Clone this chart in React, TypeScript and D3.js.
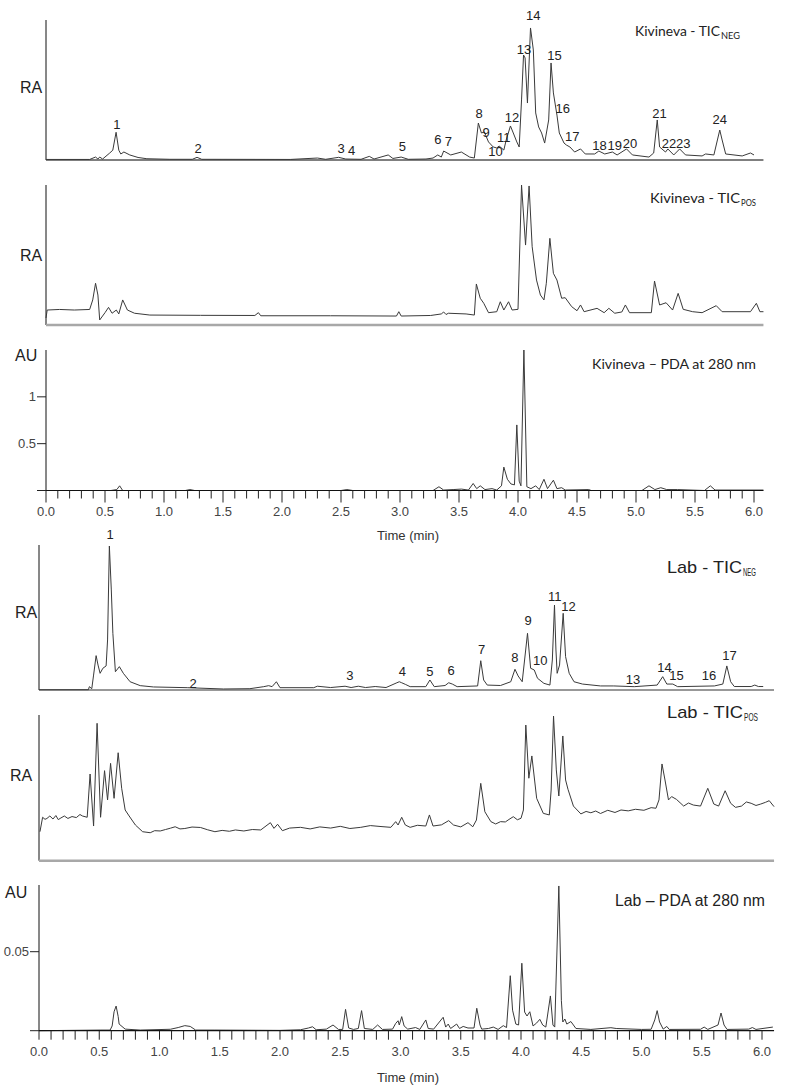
import React from 'react'
import * as d3 from 'd3'

const width = 786
const height = 1088

type Pt = [number, number]
type Peak = [string, number, number]

// Kivineva - TIC NEG : [time (min), relative abundance %]
const kivNegTrace: Pt[] = [
  [0, 0.4], [0.37, 0.4], [0.42, 2.1], [0.44, 0.7], [0.455, 2.1], [0.48, 0.7], [0.54, 5], [0.566, 7],
  [0.594, 19.8], [0.617, 7], [0.634, 4.3], [0.66, 5.7], [0.71, 3.6], [0.78, 1.8], [0.855, 0.9],
  [1.05, 0.5], [1.24, 0.5], [1.28, 1.9], [1.32, 0.5], [2.07, 0.4], [2.3, 1.4], [2.37, 0.5],
  [2.48, 1.9], [2.54, 0.7], [2.67, 0.5], [2.74, 2.6], [2.78, 0.7], [2.9, 3.6], [2.94, 1.1],
  [3.01, 2.1], [3.07, 0.5], [3.22, 0.7], [3.28, 1.4], [3.32, 3.6], [3.35, 2.1], [3.37, 6.4],
  [3.43, 3.6], [3.52, 5.7], [3.59, 2.1], [3.63, 1.4], [3.664, 26.4], [3.69, 19.3], [3.715, 20],
  [3.75, 12.9], [3.79, 9.3], [3.82, 8.6], [3.84, 10], [3.88, 7.1], [3.9, 14.3], [3.936, 24.3],
  [3.96, 19.3], [3.99, 12.9], [4.01, 9.3], [4.03, 42.9], [4.047, 75], [4.06, 72.9], [4.08, 40.7],
  [4.106, 94.3], [4.13, 78.6], [4.15, 33.6], [4.175, 23.6], [4.2, 19.3], [4.226, 12.1], [4.26, 28.6],
  [4.28, 69.3], [4.3, 47.9], [4.33, 32.1], [4.35, 19.3], [4.39, 12.1], [4.41, 10.7], [4.44, 9.3],
  [4.48, 5.7], [4.53, 7.9], [4.57, 4.3], [4.65, 4.3], [4.685, 6.4], [4.735, 4.3], [4.8, 5.7],
  [4.84, 3.6], [4.92, 7.9], [4.97, 3.6], [5.11, 2.1], [5.15, 5], [5.18, 28.6], [5.2, 9.3],
  [5.25, 5.7], [5.27, 7.9], [5.32, 3.6], [5.37, 7.9], [5.42, 3.6], [5.56, 2.9], [5.59, 4.3],
  [5.66, 3.6], [5.69, 14.3], [5.71, 21.4], [5.73, 14.3], [5.76, 4.3], [5.9, 2.9], [5.97, 5], [6.0, 3.6]
]
// [label, time, label height %]
const kivNegPeaks: Peak[] = [
  ['1', 0.6, 25.7], ['2', 1.29, 7.9], ['3', 2.5, 7.9], ['4', 2.59, 7.1], ['5', 3.02, 10],
  ['6', 3.32, 14.3], ['7', 3.41, 12.9], ['8', 3.67, 32.9], ['9', 3.73, 20], ['10', 3.81, 6.4],
  ['11', 3.88, 16.4], ['12', 3.95, 30.7], ['13', 4.05, 78.6], ['14', 4.13, 102.9], ['15', 4.31, 75],
  ['16', 4.38, 37.1], ['17', 4.46, 17.1], ['18', 4.69, 10.7], ['19', 4.82, 10.7], ['20', 4.95, 12.1],
  ['21', 5.2, 32.9], ['22', 5.28, 12.1], ['23', 5.4, 12.1], ['24', 5.71, 28.6]
]

// Kivineva - TIC POS
const kivPosTrace: Pt[] = [
  [0, 5], [0.01, 10.7], [0.115, 11.1], [0.24, 10.7], [0.37, 11.1], [0.396, 17.9], [0.42, 29.8],
  [0.44, 21.4], [0.455, 3.6], [0.5, 8.8], [0.53, 12.6], [0.56, 8.4], [0.596, 10.7], [0.617, 7.9],
  [0.65, 17.9], [0.69, 10.7], [0.75, 8.4], [0.88, 7.1], [1.31, 6.9], [1.77, 6.8], [1.8, 8.8],
  [1.82, 6.6], [2.41, 6.6], [2.97, 6.4], [2.99, 9.5], [3.01, 6.4], [3.26, 6.8], [3.35, 7.9],
  [3.37, 9.3], [3.39, 7.5], [3.41, 8.4], [3.56, 7.9], [3.63, 7.1], [3.647, 29.3], [3.68, 19.1],
  [3.71, 15.5], [3.75, 8.8], [3.82, 9.5], [3.85, 16.6], [3.88, 10.7], [3.92, 16.6], [3.95, 10.7],
  [4.0, 11.2], [4.03, 100], [4.064, 57.1], [4.094, 99.3], [4.12, 55.9], [4.157, 32.1], [4.19, 21.4],
  [4.22, 17.9], [4.24, 29.8], [4.27, 61.9], [4.3, 36.9], [4.33, 32.1], [4.37, 19.1], [4.4, 19.5],
  [4.455, 13.1], [4.5, 10.2], [4.53, 14.3], [4.56, 9.5], [4.67, 11.9], [4.73, 8.8], [4.77, 11.9],
  [4.82, 8.4], [4.88, 9.3], [4.91, 14.3], [4.945, 8.8], [5.13, 8.8], [5.157, 31.4], [5.2, 14.3],
  [5.255, 15.9], [5.31, 10.7], [5.357, 22.6], [5.4, 11.2], [5.48, 9.5], [5.56, 8.8], [5.68, 13.8],
  [5.73, 9.5], [5.97, 9.5], [6.02, 15.5], [6.05, 9.5], [6.08, 9.5]
]

// Kivineva - PDA at 280 nm : [time, AU]
const kivPdaTrace: Pt[] = [
  [0, 0], [0.55, 0], [0.6, 0.01], [0.624, 0.05], [0.65, 0], [1.18, 0], [1.22, 0.01], [1.26, 0],
  [2.5, 0], [2.55, 0.01], [2.6, 0], [3.28, 0], [3.33, 0.04], [3.37, 0.005], [3.45, 0.01],
  [3.52, 0.015], [3.58, 0.005], [3.62, 0.075], [3.65, 0.02], [3.68, 0.05], [3.72, 0.01],
  [3.78, 0.02], [3.82, 0.005], [3.86, 0.05], [3.88, 0.25], [3.91, 0.12], [3.94, 0.07], [3.97, 0.06],
  [3.99, 0.7], [4.01, 0.1], [4.025, 0.05], [4.05, 1.5], [4.075, 0.04], [4.11, 0.02], [4.15, 0.05],
  [4.18, 0.01], [4.22, 0.12], [4.25, 0.02], [4.3, 0.11], [4.33, 0.02], [4.37, 0.03], [4.4, 0.005],
  [4.6, 0.01], [4.62, 0], [5.05, 0], [5.11, 0.05], [5.16, 0.01], [5.21, 0.03], [5.26, 0.01],
  [5.35, 0.01], [5.58, 0], [5.63, 0.05], [5.67, 0.005], [6.08, 0.005]
]

// Lab - TIC NEG
const labNegTrace: Pt[] = [
  [0, 0.2], [0.41, 0.2], [0.418, 2.3], [0.438, 0.9], [0.453, 10.3], [0.474, 23.7], [0.49, 17.2],
  [0.507, 11.5], [0.53, 15], [0.557, 16.6], [0.569, 34.5], [0.584, 99.3], [0.6, 69], [0.613, 39.1],
  [0.634, 12.6], [0.667, 16.1], [0.7, 11.5], [0.756, 5.7], [0.84, 3], [0.95, 2.1], [1.23, 1.6],
  [1.53, 0.7], [1.75, 0.9], [1.865, 2.3], [1.906, 3], [1.934, 2.3], [1.97, 5.7], [2.0, 1.6],
  [2.28, 1.6], [2.31, 2.6], [2.42, 1.7], [2.54, 2.6], [2.59, 1.7], [2.65, 2.6], [2.71, 1.7],
  [2.79, 2.4], [2.88, 1.7], [2.97, 5], [2.99, 5.7], [3.01, 5], [3.04, 3.9], [3.08, 2.3], [3.21, 2.3],
  [3.244, 6.9], [3.28, 2.3], [3.37, 3.1], [3.4, 5], [3.43, 4.1], [3.47, 2.3], [3.64, 2.8],
  [3.666, 20.2], [3.69, 6.9], [3.72, 3.4], [3.83, 3.1], [3.915, 5.7], [3.95, 14.3], [3.976, 9.7],
  [4.01, 5.7], [4.054, 39.1], [4.08, 15], [4.11, 13.8], [4.137, 8.1], [4.19, 4.6], [4.24, 3.4],
  [4.26, 20.7], [4.278, 58.6], [4.29, 27.6], [4.3, 11.5], [4.32, 17.2], [4.35, 52.9], [4.37, 23],
  [4.4, 11.5], [4.44, 5.7], [4.51, 4.1], [4.66, 2.8], [4.77, 2.8], [4.94, 2.3], [5.13, 3.4],
  [5.176, 9.2], [5.21, 4.1], [5.26, 4.1], [5.3, 2.3], [5.605, 2.8], [5.675, 4.1], [5.708, 16.6],
  [5.74, 5.7], [5.77, 2.4], [5.91, 2.4], [5.94, 3.4], [5.97, 2.4], [6.01, 2.4]
]
const labNegPeaks: Peak[] = [
  ['1', 0.59, 107], ['2', 1.28, 4.6], ['3', 2.58, 10.3], ['4', 3.015, 12.6], ['5', 3.244, 12.6],
  ['6', 3.42, 13.3], ['7', 3.674, 27.6], ['8', 3.95, 22.6], ['9', 4.06, 47.6], ['10', 4.16, 20.2],
  ['11', 4.28, 64.8], ['12', 4.395, 57.9], ['13', 4.93, 7.4], ['14', 5.19, 15.7], ['15', 5.29, 9.7],
  ['16', 5.56, 9.7], ['17', 5.73, 24.1]
]

// Lab - TIC POS
const labPosTrace: Pt[] = [
  [0.008, 19.9], [0.03, 29.8], [0.05, 28.4], [0.066, 29], [0.09, 30.7], [0.116, 28.6], [0.14, 31],
  [0.16, 28.2], [0.175, 29], [0.21, 30.7], [0.24, 29], [0.274, 30.3], [0.31, 29.6], [0.34, 31.7],
  [0.36, 30.7], [0.4, 29.8], [0.424, 59.5], [0.453, 23.8], [0.482, 94.3], [0.511, 29.8],
  [0.544, 61.8], [0.569, 41.7], [0.594, 66.8], [0.623, 42.8], [0.657, 74.1], [0.686, 49.7],
  [0.715, 34.8], [0.748, 30.7], [0.8, 24.5], [0.86, 19.9], [0.923, 19.2], [0.96, 20.6], [1.006, 20.4],
  [1.05, 21.4], [1.09, 22.3], [1.13, 23.3], [1.17, 21.8], [1.21, 22.1], [1.27, 23.1], [1.34, 22.8],
  [1.4, 21.2], [1.46, 19.9], [1.52, 20.8], [1.58, 20.2], [1.63, 21.1], [1.7, 20.4], [1.77, 21.4],
  [1.84, 21.1], [1.92, 26.1], [1.95, 22.2], [1.98, 25], [2.02, 20.6], [2.08, 22.4], [2.17, 22.9],
  [2.25, 21.8], [2.33, 23.2], [2.42, 22.4], [2.5, 23.6], [2.58, 22.1], [2.67, 22.9], [2.75, 24.1],
  [2.83, 23.5], [2.92, 22.9], [2.96, 26.8], [2.98, 24.5], [3.01, 29.8], [3.04, 24.5], [3.08, 22.9],
  [3.14, 24.3], [3.21, 23.8], [3.24, 31.4], [3.27, 23.8], [3.34, 24.6], [3.4, 27.5], [3.44, 24.5],
  [3.5, 23.2], [3.56, 26.1], [3.6, 23.3], [3.63, 27.9], [3.666, 53.1], [3.7, 33.6], [3.75, 26.8],
  [3.79, 25.2], [3.83, 26.8], [3.87, 26.6], [3.9, 28.3], [3.936, 30.2], [3.97, 28.1], [4.0, 29.1],
  [4.02, 34.8], [4.04, 93.1], [4.065, 56.6], [4.09, 71.9], [4.13, 42.8], [4.185, 32.5], [4.235, 31.4],
  [4.25, 48.5], [4.27, 99.3], [4.293, 62.3], [4.314, 44.4], [4.347, 85.6], [4.37, 55.4], [4.39, 49],
  [4.435, 37.5], [4.497, 32.1], [4.54, 33.8], [4.58, 32.9], [4.62, 34.1], [4.66, 32.4], [4.72, 34.6],
  [4.78, 33.1], [4.83, 34.8], [4.89, 34.2], [4.95, 35.3], [5.02, 34.6], [5.08, 36.4], [5.12, 36],
  [5.145, 41.7], [5.17, 66.4], [5.195, 55.4], [5.224, 41.7], [5.25, 44], [5.29, 42.1], [5.32, 39.8],
  [5.35, 37.5], [5.39, 39.6], [5.43, 38.2], [5.49, 37.5], [5.55, 49.7], [5.6, 38.9], [5.64, 37.5],
  [5.694, 48], [5.74, 39.4], [5.78, 36.6], [5.83, 37.5], [5.87, 40.3], [5.91, 39.4], [5.95, 37.9],
  [5.99, 38.9], [6.03, 40.1], [6.06, 41.2], [6.1, 37.1]
]

// Lab - PDA at 280 nm : [time, AU]
const labPdaTrace: Pt[] = [
  [0, 0], [0.507, 0.0004], [0.59, 0.0004], [0.607, 0.003], [0.623, 0.012], [0.64, 0.0156],
  [0.657, 0.009], [0.665, 0.0042], [0.715, 0.001], [0.84, 0.0004], [1.09, 0.0009], [1.155, 0.002],
  [1.21, 0.0032], [1.255, 0.0027], [1.3, 0.0004], [1.46, 0.0004], [2.0, 0.0002], [2.17, 0.0006],
  [2.236, 0.0017], [2.27, 0.0025], [2.3, 0.0006], [2.385, 0.001], [2.44, 0.0036], [2.485, 0.0008],
  [2.52, 0.0008], [2.544, 0.0135], [2.57, 0.0017], [2.61, 0.0008], [2.65, 0.0014], [2.677, 0.0127],
  [2.7, 0.0014], [2.77, 0.0008], [2.81, 0.0036], [2.85, 0.0008], [2.934, 0.001], [2.96, 0.0046],
  [2.98, 0.0063], [2.99, 0.0036], [3.01, 0.0089], [3.03, 0.003], [3.06, 0.001], [3.125, 0.002],
  [3.16, 0.0008], [3.21, 0.0068], [3.23, 0.0014], [3.275, 0.001], [3.354, 0.0085], [3.375, 0.0023],
  [3.396, 0.0042], [3.416, 0.0014], [3.466, 0.0042], [3.49, 0.0014], [3.52, 0.0027], [3.56, 0.0017],
  [3.61, 0.0017], [3.633, 0.0142], [3.66, 0.0036], [3.674, 0.001], [3.73, 0.0014], [3.77, 0.0023],
  [3.81, 0.0008], [3.853, 0.0032], [3.88, 0.002], [3.911, 0.0348], [3.93, 0.013], [3.957, 0.0042],
  [3.98, 0.0036], [4.007, 0.0427], [4.03, 0.0118], [4.05, 0.0093], [4.073, 0.012], [4.1, 0.003],
  [4.13, 0.0049], [4.156, 0.0072], [4.18, 0.0036], [4.206, 0.0023], [4.244, 0.022], [4.265, 0.0036],
  [4.28, 0.0023], [4.314, 0.0916], [4.335, 0.019], [4.347, 0.0055], [4.364, 0.0074], [4.38, 0.0042],
  [4.414, 0.0058], [4.456, 0.0014], [4.58, 0.0008], [4.746, 0.0019], [4.79, 0.0014], [5.0, 0.0008],
  [5.08, 0.0009], [5.11, 0.0068], [5.13, 0.0127], [5.15, 0.0055], [5.18, 0.001], [5.21, 0.0027],
  [5.23, 0.0008], [5.49, 0.0009], [5.52, 0.0023], [5.55, 0.0008], [5.635, 0.0036], [5.66, 0.0112],
  [5.685, 0.0036], [5.71, 0.0008], [5.89, 0.001], [5.92, 0.002], [5.95, 0.0008], [6.09, 0.0023]
]

const timeTickLabels = ['0.0', '0.5', '1.0', '1.5', '2.0', '2.5', '3.0', '3.5', '4.0', '4.5', '5.0', '5.5', '6.0']
const kivPdaYTicks = [0, 0.5, 1]
const labPdaYTicks = [0, 0.05]

const arial = "'Liberation Sans', Arial, sans-serif"
const calibri = "Lato, 'Open Sans', sans-serif"
const ink = '#333'

const kivX = d3.scaleLinear().domain([0, 6.08]).range([46, 46 + 118 * 6.08])
const labX = d3.scaleLinear().domain([0, 6.1]).range([39, 39 + 120.5 * 6.1])

const lineOf = (x: d3.ScaleLinear<number, number>, y: d3.ScaleLinear<number, number>) =>
  d3.line<Pt>().x(d => x(d[0])).y(d => y(d[1]))

const Trace = ({ data, x, y }: any) => (
  <path d={lineOf(x, y)(data) || ''} fill="none" stroke="#3a3a3a" strokeWidth={1} strokeLinejoin="round" />
)

const PeakLabels = ({ peaks, x, y }: any) => (
  <g fontFamily={arial} fontSize={13} fill="#222" textAnchor="middle">
    {peaks.map((p: Peak, i: number) => (
      <text key={i} x={x(p[1])} y={y(p[2])} dominantBaseline="central">{p[0]}</text>
    ))}
  </g>
)

const Title = ({ x, y, text, w, sub, subW, font, size }: any) => (
  <g fill="#222" fontFamily={font}>
    <text x={x} y={y} fontSize={size} textLength={w} lengthAdjust="spacingAndGlyphs">{text}</text>
    {sub && (
      <text x={x + w + 1} y={y + 3} fontSize={size * 0.62} textLength={subW} lengthAdjust="spacingAndGlyphs">{sub}</text>
    )}
  </g>
)

const TimeAxis = ({ x, y0, majorLen, minorLen, labelY, titleY }: any) => {
  const minor = d3.range(0, 61).map(i => i / 10)
  return (
    <g>
      <line x1={x.range()[0]} x2={x.range()[1]} y1={y0} y2={y0} stroke="#111" strokeWidth={1.2} />
      {minor.map((t, i) => (
        <line key={i} x1={x(t)} x2={x(t)} y1={y0} y2={y0 + (i % 5 === 0 ? majorLen : minorLen)} stroke="#222" strokeWidth={1} />
      ))}
      <g fontFamily={arial} fontSize={13} fill="#444" textAnchor="middle">
        {timeTickLabels.map(l => (
          <text key={l} x={x(+l)} y={labelY} dominantBaseline="central">{l}</text>
        ))}
      </g>
      <text x={408} y={titleY} fontFamily={arial} fontSize={13} fill="#333" textAnchor="middle"
        dominantBaseline="central" textLength={62} lengthAdjust="spacingAndGlyphs">Time (min)</text>
    </g>
  )
}

const YTicks = ({ x0, y, ticks, fmt }: any) => (
  <g>
    {ticks.map((t: number) => (
      <g key={t}>
        <line x1={x0 - 9} x2={x0} y1={y(t)} y2={y(t)} stroke="#222" strokeWidth={1} />
        {t > 0 && (
          <text x={x0 - 10} y={y(t)} fontFamily={arial} fontSize={13} fill="#444" textAnchor="end"
            dominantBaseline="central">{fmt(t)}</text>
        )}
      </g>
    ))}
  </g>
)

const App = () => {
  const y1 = d3.scaleLinear().domain([0, 100]).range([160, 20])
  const y2 = d3.scaleLinear().domain([0, 100]).range([325, 185])
  const y3 = d3.scaleLinear().domain([0, 1.5]).range([490.5, 350])
  const y4 = d3.scaleLinear().domain([0, 100]).range([690, 545])
  const y5 = d3.scaleLinear().domain([0, 100]).range([860.7, 715])
  const y6 = d3.scaleLinear().domain([0, 0.05]).range([1030.7, 951.7])
  const [kx0, kx1] = kivX.range()
  const [lx0, lx1] = labX.range()

  return (
    <svg width={width} height={height} style={{ position: 'absolute', left: 0, top: 0, background: '#fff' }}>
      {/* Kivineva TIC NEG */}
      <line x1={kx0} x2={kx0} y1={20} y2={160} stroke="#111" />
      <line x1={kx0} x2={kx1} y1={160} y2={160} stroke="#555" strokeWidth={1.5} />
      <Trace data={kivNegTrace} x={kivX} y={y1} />
      <PeakLabels peaks={kivNegPeaks} x={kivX} y={y1} />
      <text x={20} y={93} fontFamily={arial} fontSize={16} fill="#222">RA</text>
      <Title x={635} y={36} text="Kivineva - TIC" w={85} sub="NEG" subW={19} font={calibri} size={14} />

      {/* Kivineva TIC POS */}
      <line x1={kx0} x2={kx0} y1={185} y2={325} stroke="#111" />
      <line x1={kx0} x2={kx1} y1={325} y2={325} stroke="#a8a8a8" strokeWidth={2.5} />
      <Trace data={kivPosTrace} x={kivX} y={y2} />
      <text x={20} y={261} fontFamily={arial} fontSize={16} fill="#222">RA</text>
      <Title x={650} y={203} text="Kivineva - TIC" w={90} sub="POS" subW={15} font={calibri} size={14} />

      {/* Kivineva PDA */}
      <line x1={kx0} x2={kx0} y1={350} y2={490.5} stroke="#111" />
      <YTicks x0={kx0} y={y3} ticks={kivPdaYTicks} fmt={(t: number) => String(t)} />
      <Trace data={kivPdaTrace} x={kivX} y={y3} />
      <TimeAxis x={kivX} y0={490.5} majorLen={12} minorLen={8} labelY={511.7} titleY={535} />
      <text x={15} y={361} fontFamily={arial} fontSize={16} fill="#222">AU</text>
      <Title x={592} y={369} text="Kivineva – PDA at 280 nm" w={164} font={calibri} size={14} />

      {/* Lab TIC NEG */}
      <line x1={lx0} x2={lx0} y1={545} y2={690} stroke="#111" />
      <line x1={lx0} x2={lx1} y1={690} y2={690} stroke="#333" strokeWidth={1.2} />
      <Trace data={labNegTrace} x={labX} y={y4} />
      <PeakLabels peaks={labNegPeaks} x={labX} y={y4} />
      <text x={15} y={618} fontFamily={arial} fontSize={16} fill="#222">RA</text>
      <Title x={667} y={573} text="Lab - TIC" w={75} sub="NEG" subW={13} font={arial} size={17} />

      {/* Lab TIC POS */}
      <line x1={lx0} x2={lx0} y1={715} y2={860.7} stroke="#111" />
      <line x1={lx0} x2={lx1} y1={860.7} y2={860.7} stroke="#a8a8a8" strokeWidth={2.5} />
      <Trace data={labPosTrace} x={labX} y={y5} />
      <text x={10} y={781} fontFamily={arial} fontSize={16} fill="#222">RA</text>
      <Title x={667} y={718} text="Lab - TIC" w={76} sub="POS" subW={14} font={arial} size={17} />

      {/* Lab PDA */}
      <line x1={lx0} x2={lx0} y1={885} y2={1030.7} stroke="#111" />
      <YTicks x0={lx0} y={y6} ticks={labPdaYTicks} fmt={(t: number) => String(t)} />
      <Trace data={labPdaTrace} x={labX} y={y6} />
      <TimeAxis x={labX} y0={1030.7} majorLen={9} minorLen={9} labelY={1051.7} titleY={1077} />
      <text x={5} y={898} fontFamily={arial} fontSize={16} fill="#222">AU</text>
      <Title x={615} y={906} text="Lab – PDA at 280 nm" w={150} font={arial} size={16} />
    </svg>
  )
}

export default App
